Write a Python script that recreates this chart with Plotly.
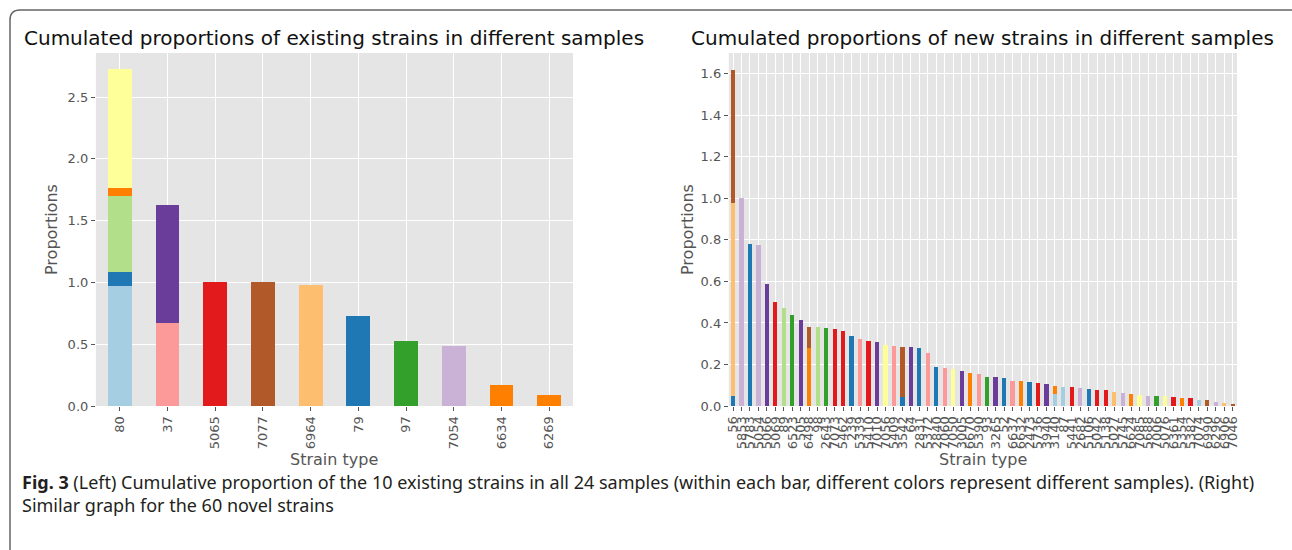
import plotly.graph_objects as go

# ---------------- data ----------------
# Paired colormap: one colour per pair of samples (24 samples -> 12 colours)
sample_colors = ["#a6cee3", "#1f78b4", "#b2df8a", "#33a02c", "#fb9a99", "#e31a1c",
                 "#fdbf6f", "#ff7f00", "#cab2d6", "#6a3d9a", "#ffff99", "#b15928"]
sample_names = ["Samples %d-%d" % (2 * i + 1, 2 * i + 2) for i in range(12)]

existing_strains = ["80", "37", "5065", "7077", "6964", "79", "97", "7054", "6634", "6269"]
# per strain: (sample colour index, proportion) stacked bottom -> top
existing_segments = [
    [(0, 0.968), (1, 0.113), (2, 0.622), (7, 0.057), (10, 0.965)],
    [(4, 0.668), (9, 0.955)],
    [(5, 1.0)],
    [(11, 1.0)],
    [(6, 0.98)],
    [(1, 0.73)],
    [(3, 0.525)],
    [(8, 0.485)],
    [(7, 0.17)],
    [(7, 0.09)],
]

new_strains = ["56", "5853", "5783", "5054", "5066", "5069", "89", "6523", "505", "6498",
               "98", "2643", "7073", "5462", "239", "5339", "5410", "7010", "7056", "5409",
               "3542", "64", "2831", "5372", "2840", "7060", "7050", "3005", "6670", "5390",
               "93", "3265", "52", "6637", "6632", "2473", "5736", "3940", "3140", "87",
               "5441", "2682", "5106", "5042", "5138", "5027", "5745", "6624", "7085", "5688",
               "7006", "5076", "6361", "5354", "5382", "7074", "6990", "6296", "6906", "7046"]
new_segments = [
    [(1, 0.048), (6, 0.928), (11, 0.644)],
    [(8, 1.0)], [(1, 0.78)], [(8, 0.773)], [(9, 0.586)], [(5, 0.502)],
    [(2, 0.474)], [(3, 0.437)], [(9, 0.414)],
    [(7, 0.28), (11, 0.102)],
    [(2, 0.379)], [(3, 0.374)], [(5, 0.372)], [(5, 0.363)], [(1, 0.336)],
    [(4, 0.325)], [(5, 0.315)], [(9, 0.309)], [(10, 0.293)], [(4, 0.29)],
    [(1, 0.043), (11, 0.242)],
    [(9, 0.282)], [(1, 0.277)], [(4, 0.254)], [(1, 0.19)], [(4, 0.182)],
    [(10, 0.176)], [(9, 0.168)], [(7, 0.157)], [(4, 0.153)], [(3, 0.14)],
    [(9, 0.14)], [(1, 0.135)], [(4, 0.122)], [(7, 0.122)], [(1, 0.114)],
    [(5, 0.111)], [(9, 0.106)],
    [(0, 0.06), (7, 0.038)],
    [(0, 0.093)], [(5, 0.093)], [(8, 0.089)], [(1, 0.083)], [(5, 0.078)],
    [(5, 0.078)], [(6, 0.067)], [(8, 0.065)], [(7, 0.059)], [(10, 0.052)],
    [(8, 0.05)], [(3, 0.049)], [(10, 0.047)], [(5, 0.042)], [(7, 0.039)],
    [(5, 0.037)], [(0, 0.029)], [(11, 0.029)], [(8, 0.018)], [(6, 0.015)],
    [(11, 0.007)],
]

left_title = "Cumulated proportions of existing strains in different samples"
right_title = "Cumulated proportions of new strains in different samples"
x_label = "Strain type"
y_label = "Proportions"
caption_1 = ("<b>Fig. 3</b> (Left) Cumulative proportion of the 10 existing strains in all 24 samples "
             "(within each bar, different colors represent different samples). (Right)")
caption_2 = "Similar graph for the 60 novel strains"

# ---------------- figure ----------------
W, H = 1292, 550


def fx(px):
    return px / W


def fy(px):
    return 1 - px / H


fig = go.Figure()

for strains, segments, xa, ya in [(existing_strains, existing_segments, "x", "y"),
                                  (new_strains, new_segments, "x2", "y2")]:
    for c in range(len(sample_colors)):
        vals = [sum(v for ci, v in seg if ci == c) for seg in segments]
        if any(vals):
            fig.add_trace(go.Bar(x=strains, y=vals, name=sample_names[c],
                                 marker=dict(color=sample_colors[c], line=dict(width=0)),
                                 xaxis=xa, yaxis=ya, showlegend=False))

FONT = "DejaVu Sans"
tick_font = dict(family=FONT, size=13, color="#555555")
common_x = dict(type="category", showgrid=True, gridcolor="white", gridwidth=1,
                tickmode="linear", tick0=0, dtick=1,
                ticks="outside", ticklen=4, tickwidth=1, tickcolor="#555555",
                tickangle=-90, tickfont=tick_font, zeroline=False, showline=False,
                automargin=False, fixedrange=True)
common_y = dict(showgrid=True, gridcolor="white", gridwidth=1, ticks="outside",
                ticklen=4, tickwidth=1, tickcolor="#555555", tickfont=tick_font,
                tickformat=".1f", zeroline=False, showline=False, automargin=False)

y_top_px, y_bot_px = 53, 406
fig.update_layout(
    width=W, height=H,
    margin=dict(l=0, r=0, t=0, b=0),
    paper_bgcolor="white", plot_bgcolor="#E5E5E5",
    barmode="stack", bargap=0.5,
    xaxis=dict(common_x, domain=[fx(95.9), fx(573)], range=[-0.5, 9.5], anchor="y"),
    yaxis=dict(common_y, domain=[fy(y_bot_px), fy(y_top_px)], range=[0, 2.856], dtick=0.5, anchor="x"),
    xaxis2=dict(common_x, domain=[fx(728.8), fx(1237)], range=[-0.5, 59.5], anchor="y2"),
    yaxis2=dict(common_y, domain=[fy(y_bot_px), fy(y_top_px)], range=[0, 1.70], dtick=0.2, anchor="x2"),
    font=dict(family=FONT),
)

ann = []
for cx, title in [((95.9 + 573) / 2, left_title), ((728.8 + 1237) / 2, right_title)]:
    ann.append(dict(x=fx(cx), y=fy(38), xref="paper", yref="paper", text=title,
                    showarrow=False, xanchor="center", yanchor="middle",
                    font=dict(family=FONT, size=20, color="#111111")))
    ann.append(dict(x=fx(cx), y=fy(460), xref="paper", yref="paper", text=x_label,
                    showarrow=False, xanchor="center", yanchor="middle",
                    font=dict(family=FONT, size=16, color="#555555")))
for cx in [51, 687]:
    ann.append(dict(x=fx(cx), y=fy(230), xref="paper", yref="paper", text=y_label,
                    showarrow=False, textangle=-90, xanchor="center", yanchor="middle",
                    font=dict(family=FONT, size=16, color="#555555")))
CAP = "Noto Sans"
ann.append(dict(x=fx(20), y=fy(482), xref="paper", yref="paper", text=caption_1,
                showarrow=False, xanchor="left", yanchor="middle",
                font=dict(family=CAP, size=18, color="#231f20")))
ann.append(dict(x=fx(20), y=fy(505), xref="paper", yref="paper", text=caption_2,
                showarrow=False, xanchor="left", yanchor="middle",
                font=dict(family=CAP, size=18, color="#231f20")))
fig.update_layout(annotations=ann)

# rounded frame (top-left corner visible)
r = 10
x0, y0 = 10, 10
path = ("M %f,%f L %f,%f Q %f,%f %f,%f L %f,%f" %
        (fx(x0), fy(600), fx(x0), fy(y0 + r), fx(x0), fy(y0), fx(x0 + r), fy(y0),
         fx(1320), fy(y0)))
fig.add_shape(type="path", path=path, xref="paper", yref="paper",
              line=dict(color="#666666", width=1.5))

fig.write_html("out.html", config={"displayModeBar": False},
               post_script="document.body.style.margin='0px';document.body.style.overflow='hidden';")
